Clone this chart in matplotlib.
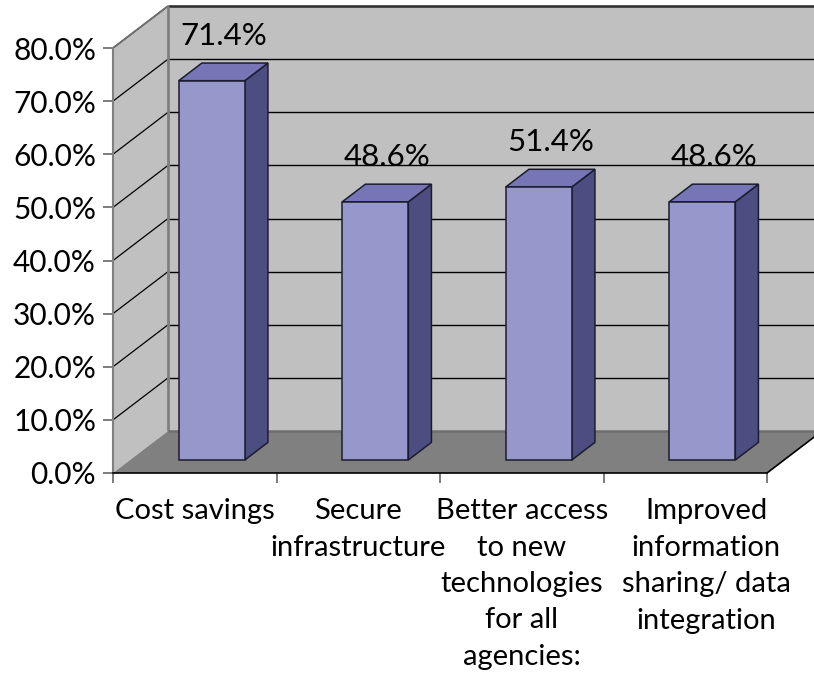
import matplotlib
matplotlib.use("Agg")
import matplotlib.pyplot as plt
from matplotlib.patches import Polygon
from matplotlib.ticker import FuncFormatter
from matplotlib.transforms import ScaledTranslation

# Survey results
categories = [
    "Cost savings",
    "Secure\ninfrastructure",
    "Better access\nto new\ntechnologies\nfor all\nagencies:",
    "Improved\ninformation\nsharing/ data\nintegration",
]
values = [71.4, 48.6, 51.4, 48.6]
y_ticks = [0, 10, 20, 30, 40, 50, 60, 70, 80]

plt.rcParams['font.family'] = ['Lato', 'DejaVu Sans']
FS_X = 21
FS_Y = 21.5
FS_VAL = 22.5

fig = plt.figure(figsize=(8.14, 6.85), dpi=100)
ax = fig.add_axes([113 / 814, 212 / 685, 654 / 814, 425 / 685])
n = len(categories)
top = y_ticks[-1]
ax.set_xlim(0, n)
ax.set_ylim(0, top)
ax.patch.set_visible(False)

# pseudo-3D depth of the chart box (data units)
DX, DY = 0.3364, 7.9
BAR_W = 0.404
F0, F1 = 0.31, 0.73   # front / back depth fractions of each bar

WALL = '#C0C0C0'
FLOOR = '#808080'
C_FRONT = '#9697CA'
C_TOP = '#7676B6'
C_SIDE = '#4C4D80'
EDGE = '#1C1C30'


def poly(pts, fc, ec='none', lw=0.0, z=1):
    ax.add_patch(Polygon(pts, closed=True, fc=fc, ec=ec, lw=lw,
                         zorder=z, clip_on=False, joinstyle='miter'))


def line(xs, ys, color, lw, z):
    ax.plot(xs, ys, color=color, lw=lw, zorder=z, clip_on=False,
            solid_capstyle='butt')


# back wall and side wall
poly([(DX, DY), (n + DX + 1, DY), (n + DX + 1, top + DY), (DX, top + DY)], WALL, z=0)
poly([(0, 0), (DX, DY), (DX, top + DY), (0, top)], WALL, z=0)

# gridlines on both walls
for t in y_ticks[1:]:
    line([DX, n + DX + 1], [t + DY, t + DY], '#000000', 1.0, 1)
    line([0, DX], [t, t + DY], '#000000', 0.9, 1)

# wall edges
line([0, DX], [top, top + DY], '#707070', 1.3, 1.5)
line([DX, n + DX + 1], [top + DY, top + DY], '#303030', 1.8, 1.5)
line([DX, DX], [DY, top + DY], '#808080', 2.0, 1.5)

# floor
poly([(0, 0), (n, 0), (n + DX, DY), (DX, DY)], FLOOR, z=2)
line([DX, n + DX], [DY, DY], '#6E6E6E', 1.8, 2.1)
line([n, n + DX], [0, DY], '#000000', 1.2, 2.1)

# bars
d = F1 - F0
for i, v in enumerate(values):
    x0 = i + 0.5 - BAR_W / 2 + F0 * DX
    y0 = F0 * DY
    x1 = x0 + BAR_W
    ox, oy = d * DX, d * DY
    poly([(x1, y0), (x1 + ox, y0 + oy), (x1 + ox, y0 + v + oy), (x1, y0 + v)],
         C_SIDE, EDGE, 1.1, 3)
    poly([(x0, y0 + v), (x1, y0 + v), (x1 + ox, y0 + v + oy), (x0 + ox, y0 + v + oy)],
         C_TOP, EDGE, 1.1, 3)
    poly([(x0, y0), (x1, y0), (x1, y0 + v), (x0, y0 + v)],
         C_FRONT, EDGE, 1.1, 3.1)
    ax.text(i + 0.5 + (F0 + F1) / 2 * DX, v + 9.2, f"{v:.1f}%",
            ha='center', va='baseline', fontsize=FS_VAL, zorder=5)

# axes
for s in ('top', 'right'):
    ax.spines[s].set_visible(False)
ax.spines['left'].set_color('#808080')
ax.spines['left'].set_linewidth(1.5)
ax.spines['bottom'].set_color('#000000')
ax.spines['bottom'].set_linewidth(1.2)
ax.spines['bottom'].set_zorder(2.5)

ax.set_yticks(y_ticks)
ax.yaxis.set_major_formatter(FuncFormatter(lambda v, _: f"{v:.1f}%"))
ax.tick_params(axis='y', length=7.2, width=1.2, color='#666666', pad=5.0,
               labelsize=FS_Y)

ax.set_xticks(range(n + 1))
ax.set_xticklabels([])
ax.set_xticks([i + 0.5 for i in range(n)], minor=True)
xlabels = ax.set_xticklabels(categories, minor=True, fontsize=FS_X, linespacing=1.5)
ax.tick_params(axis='x', which='major', length=7.2, width=1.2, color='#666666')
ax.tick_params(axis='x', which='minor', length=0, pad=18)

# the last category label sits a little to the right so it clears its neighbour
last = xlabels[-1]
last.set_transform(last.get_transform() + ScaledTranslation(0.21, 0, fig.dpi_scale_trans))

fig.savefig("out.png", dpi=100)
